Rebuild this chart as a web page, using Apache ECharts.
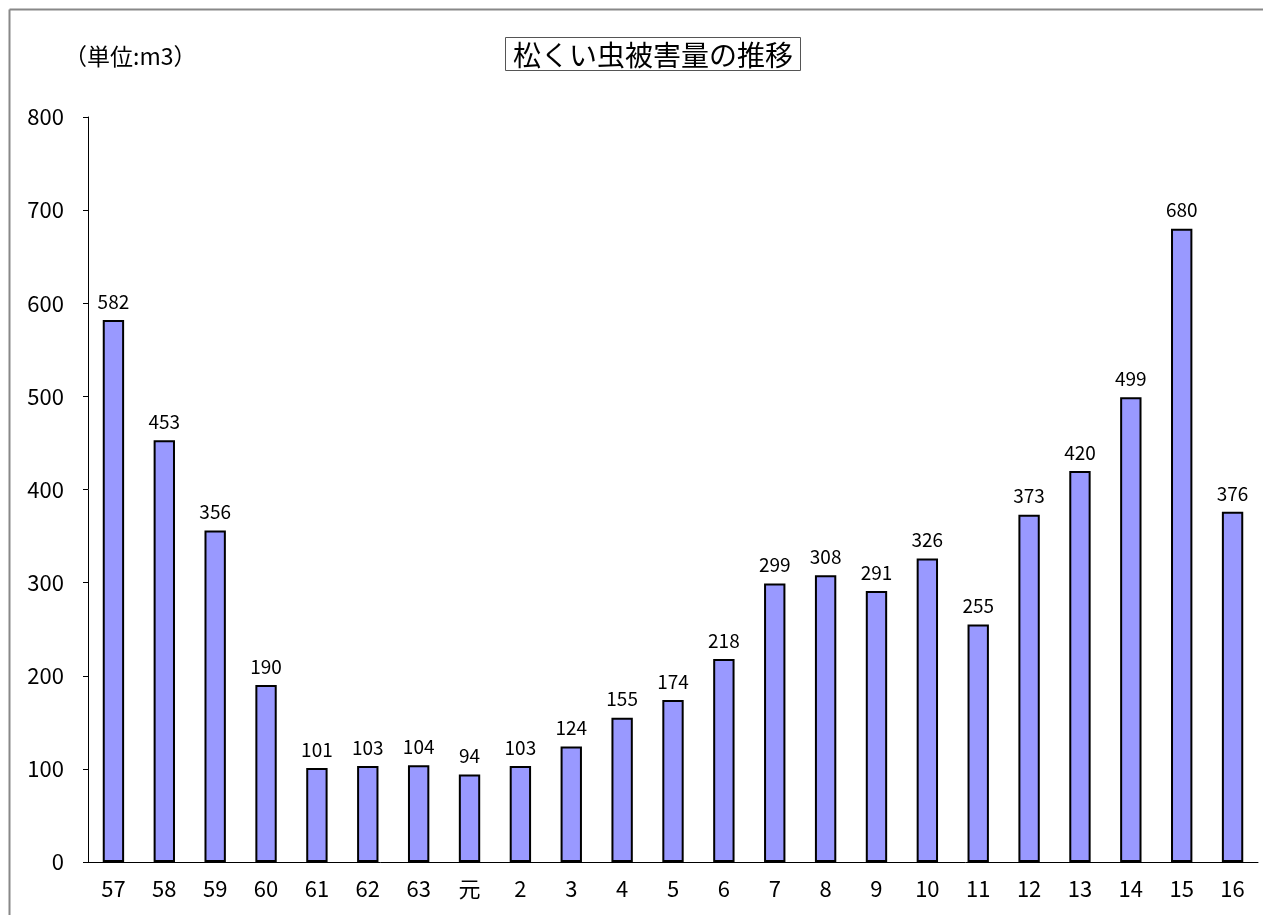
<!DOCTYPE html>
<html>
<head>
<meta charset="utf-8">
<script src="https://cdn.jsdelivr.net/npm/echarts@6/dist/echarts.min.js"></script>
<style>
html, body { margin: 0; padding: 0; background: #fff; }
#main { width: 1263px; height: 915px; }
</style>
</head>
<body>
<div id="main"></div>
<script>
var years = ["57", "58", "59", "60", "61", "62", "63", "元", "2", "3", "4", "5", "6", "7", "8", "9", "10", "11", "12", "13", "14", "15", "16"];
var damage = [582, 453, 356, 190, 101, 103, 104, 94, 103, 124, 155, 174, 218, 299, 308, 291, 326, 255, 373, 420, 499, 680, 376];

var font = "'Noto Sans CJK JP', 'Noto Sans', sans-serif";
var myEchart = echarts.init(document.getElementById("main"));
var option = {
  animation: false,
  textStyle: { fontFamily: font },
  title: {
    text: "松くい虫被害量の推移",
    left: 505,
    top: 37,
    padding: [4, 8, 2, 8],
    borderColor: "#555",
    borderWidth: 1,
    textStyle: { fontSize: 28, fontWeight: "normal", color: "#000", fontFamily: font },
  },
  graphic: [
    { type: "line", shape: { x1: 9.5, y1: 9.5, x2: 1263, y2: 9.5 }, style: { stroke: "#888", lineWidth: 2 } },
    { type: "line", shape: { x1: 9.5, y1: 9.5, x2: 9.5, y2: 915 }, style: { stroke: "#888", lineWidth: 2 } },
    { type: "text", left: 64, top: 45, style: { text: "（単位:m3）", fontSize: 23, fill: "#000", fontFamily: font } },
  ],
  grid: { left: 88, right: 5, top: 117, bottom: 53 },
  xAxis: {
    type: "category",
    data: years,
    axisLine: { lineStyle: { color: "#000", width: 1 } },
    axisTick: { show: false },
    axisLabel: { color: "#000", fontSize: 22, margin: 16 },
  },
  yAxis: {
    type: "value",
    min: 0,
    max: 800,
    interval: 100,
    axisLine: { show: true, lineStyle: { color: "#000", width: 1 } },
    axisTick: { show: true, length: 5, lineStyle: { color: "#000" } },
    splitLine: { show: false },
    axisLabel: { color: "#000", fontSize: 22, margin: 24 },
  },
  series: [
    {
      type: "bar",
      data: damage,
      barWidth: "42%",
      itemStyle: { color: "#9999FF", borderColor: "#000", borderWidth: 2 },
      label: { show: true, position: "top", distance: 9, color: "#000", fontSize: 19 },
    },
  ],
};
myEchart.setOption(option, true);
</script>
</body>
</html>
